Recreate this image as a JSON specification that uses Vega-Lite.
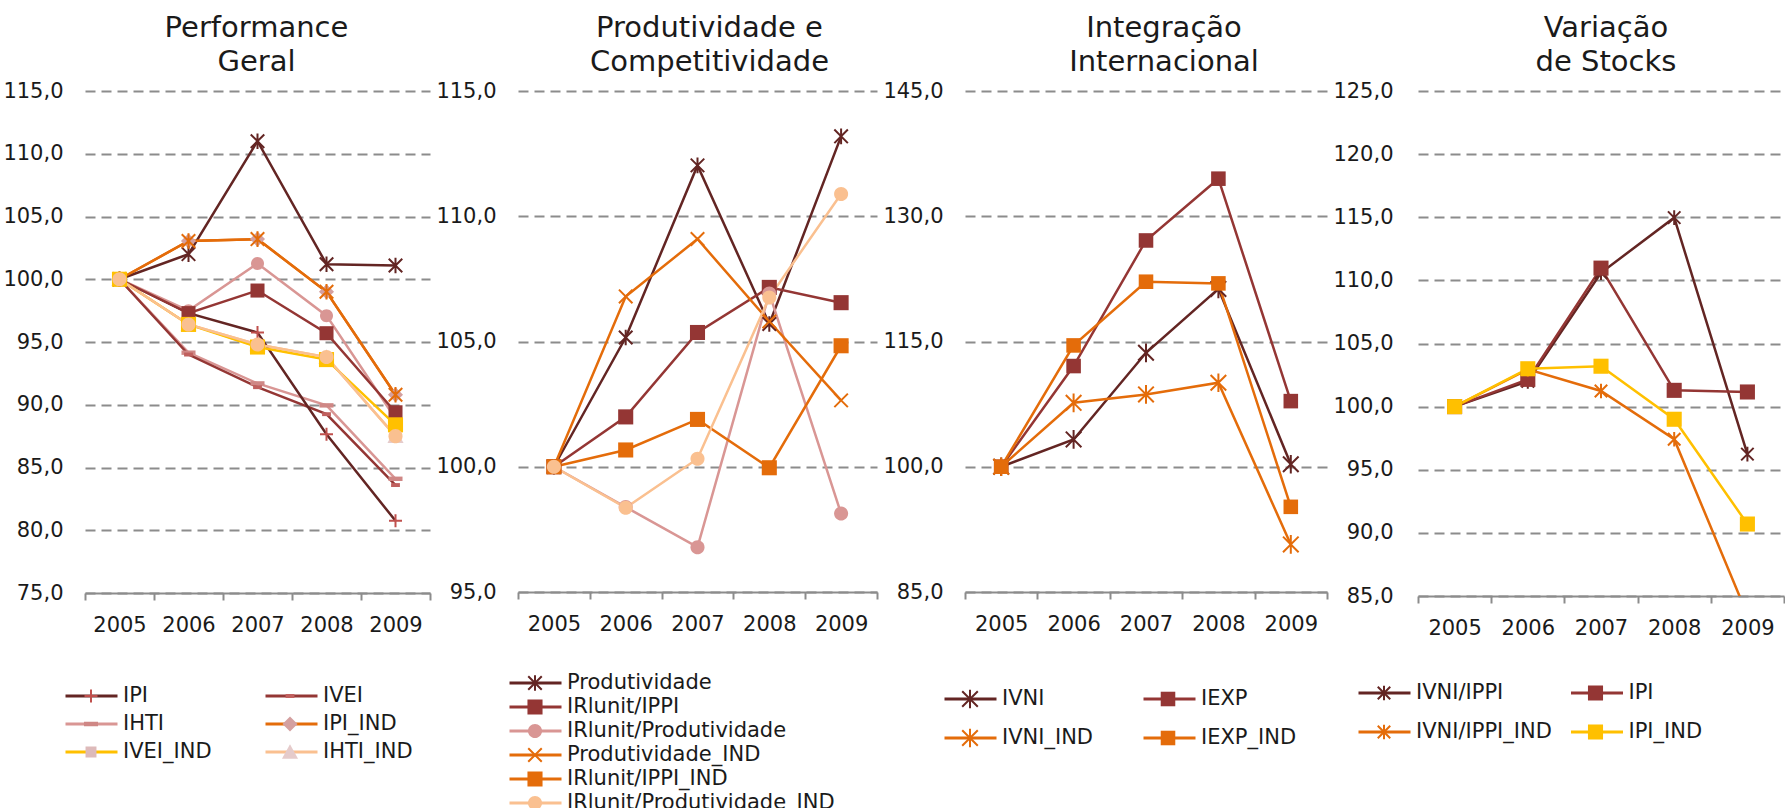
{
  "$schema": "https://vega.github.io/schema/vega-lite/v6.json",
  "background": "white",
  "padding": {"left": 2, "top": 13, "right": 0, "bottom": 0},
  "spacing": 4,
  "config": {
    "view": {"stroke": null},
    "axisX": {"labelAngle": 0, "tickBand": "extent", "domainColor": "#8c8c8c", "domainWidth": 2, "tickColor": "#8c8c8c", "tickWidth": 2, "tickSize": 7, "labelPadding": 14, "grid": false, "labelFont": "DejaVu Sans", "labelFontSize": 21, "labelColor": "#1a1a1a", "title": null},
    "axisY": {"domain": false, "ticks": false, "labelPadding": 22, "grid": true, "gridDash": [10, 6], "gridColor": "#8c8c8c", "gridWidth": 2, "labelFont": "DejaVu Sans", "labelFontSize": 21, "labelColor": "#1a1a1a", "title": null, "labelExpr": "replace(format(datum.value,'.1f'),'.',',')"},
    "title": {"font": "DejaVu Sans", "fontSize": 29, "fontWeight": "normal", "color": "#1a1a1a", "lineHeight": 34, "anchor": "middle", "frame": "group", "offset": 3.5},
    "legend": {"orient": "none", "title": null, "padding": 0, "labelFont": "DejaVu Sans", "labelFontSize": 21, "labelColor": "#1a1a1a", "symbolSize": 2704, "clipHeight": 22, "labelOffset": 4, "direction": "horizontal", "labelLimit": 400}
  },
  "resolve": {"scale": {"color": "independent", "fill": "independent", "stroke": "independent", "shape": "independent"}},
  "hconcat": [
    {
      "width": 345, "height": 502,
      "title": {"text": ["Performance", "Geral"], "dx": -1},
      "data": {"values": [
        {"ano": "2005", "serie": "IHTI_IND", "valor": 100}, {"ano": "2006", "serie": "IHTI_IND", "valor": 96.4}, {"ano": "2007", "serie": "IHTI_IND", "valor": 94.8}, {"ano": "2008", "serie": "IHTI_IND", "valor": 93.8}, {"ano": "2009", "serie": "IHTI_IND", "valor": 87.5},
        {"ano": "2005", "serie": "IVEI_IND", "valor": 100}, {"ano": "2006", "serie": "IVEI_IND", "valor": 96.4}, {"ano": "2007", "serie": "IVEI_IND", "valor": 94.6}, {"ano": "2008", "serie": "IVEI_IND", "valor": 93.6}, {"ano": "2009", "serie": "IVEI_IND", "valor": 88.4},
        {"ano": "2005", "serie": "IHTI", "valor": 100}, {"ano": "2006", "serie": "IHTI", "valor": 94.15}, {"ano": "2007", "serie": "IHTI", "valor": 91.7}, {"ano": "2008", "serie": "IHTI", "valor": 89.95}, {"ano": "2009", "serie": "IHTI", "valor": 84.1},
        {"ano": "2005", "serie": "IVEI", "valor": 100}, {"ano": "2006", "serie": "IVEI", "valor": 94.0}, {"ano": "2007", "serie": "IVEI", "valor": 91.4}, {"ano": "2008", "serie": "IVEI", "valor": 89.25}, {"ano": "2009", "serie": "IVEI", "valor": 83.6},
        {"ano": "2005", "serie": "IPI", "valor": 100}, {"ano": "2006", "serie": "IPI", "valor": 97.3}, {"ano": "2007", "serie": "IPI", "valor": 95.75}, {"ano": "2008", "serie": "IPI", "valor": 87.65}, {"ano": "2009", "serie": "IPI", "valor": 80.75},
        {"ano": "2005", "serie": "IPI_IND", "valor": 100}, {"ano": "2006", "serie": "IPI_IND", "valor": 103.05}, {"ano": "2007", "serie": "IPI_IND", "valor": 103.2}, {"ano": "2008", "serie": "IPI_IND", "valor": 99.0}, {"ano": "2009", "serie": "IPI_IND", "valor": 90.8},
        {"ano": "2005", "serie": "série 7", "valor": 100}, {"ano": "2006", "serie": "série 7", "valor": 102.0}, {"ano": "2007", "serie": "série 7", "valor": 111.0}, {"ano": "2008", "serie": "série 7", "valor": 101.2}, {"ano": "2009", "serie": "série 7", "valor": 101.1},
        {"ano": "2005", "serie": "série 8", "valor": 100}, {"ano": "2006", "serie": "série 8", "valor": 103.05}, {"ano": "2007", "serie": "série 8", "valor": 103.2}, {"ano": "2008", "serie": "série 8", "valor": 99.0}, {"ano": "2009", "serie": "série 8", "valor": 90.8},
        {"ano": "2005", "serie": "série 9", "valor": 100}, {"ano": "2006", "serie": "série 9", "valor": 97.5}, {"ano": "2007", "serie": "série 9", "valor": 101.25}, {"ano": "2008", "serie": "série 9", "valor": 97.1}, {"ano": "2009", "serie": "série 9", "valor": 88.9},
        {"ano": "2005", "serie": "série 10", "valor": 100}, {"ano": "2006", "serie": "série 10", "valor": 97.3}, {"ano": "2007", "serie": "série 10", "valor": 99.1}, {"ano": "2008", "serie": "série 10", "valor": 95.7}, {"ano": "2009", "serie": "série 10", "valor": 89.4},
        {"ano": "2005", "serie": "série 11", "valor": 100}, {"ano": "2006", "serie": "série 11", "valor": 96.4}, {"ano": "2007", "serie": "série 11", "valor": 94.6}, {"ano": "2008", "serie": "série 11", "valor": 93.6}, {"ano": "2009", "serie": "série 11", "valor": 88.4},
        {"ano": "2005", "serie": "série 12", "valor": 100}, {"ano": "2006", "serie": "série 12", "valor": 96.4}, {"ano": "2007", "serie": "série 12", "valor": 94.8}, {"ano": "2008", "serie": "série 12", "valor": 93.8}, {"ano": "2009", "serie": "série 12", "valor": 87.5}
      ]},
      "encoding": {
        "x": {"field": "ano", "type": "nominal", "scale": {"type": "band", "paddingInner": 0, "paddingOuter": 0}},
        "y": {"field": "valor", "type": "quantitative", "scale": {"domain": [75, 115], "nice": false, "zero": false}, "axis": {"values": [75, 80, 85, 90, 95, 100, 105, 110, 115]}}
      },
      "layer": [
        {
          "mark": {"type": "line", "clip": true},
          "encoding": {
            "strokeWidth": {"condition": {"test": "datum.serie === 'IVEI_IND'", "value": 1.2}, "value": 2.5},
            "color": {"field": "serie", "type": "nominal",
              "scale": {"domain": ["IPI", "IVEI", "IHTI", "IPI_IND", "IVEI_IND", "IHTI_IND", "série 7", "série 8", "série 9", "série 10", "série 11", "série 12", "_"],
                        "range": ["#632523", "#943634", "#D99694", "#E46C0A", "#FFC000", "#FAC090", "#632523", "#E46C0A", "#D99694", "#943634", "#FFC000", "#FAC090", "#000000"]},
              "legend": {"values": ["IPI", "IVEI", "IHTI", "IPI_IND", "IVEI_IND", "IHTI_IND"], "symbolType": "stroke", "symbolStrokeWidth": 3, "columns": 2, "columnPadding": 52, "rowPadding": 6, "legendX": -21, "legendY": 594}}
          }
        },
        {
          "mark": {"type": "point", "filled": true, "size": 2704, "strokeWidth": 2, "opacity": 1, "clip": true},
          "encoding": {
            "shape": {"field": "serie", "type": "nominal",
              "scale": {"domain": ["IPI", "IVEI", "IHTI", "IPI_IND", "IVEI_IND", "IHTI_IND", "série 7", "série 8", "série 9", "série 10", "série 11", "série 12"],
                        "range": ["M-0.25,0H0.25M0,-0.25V0.25", "M-0.17,-0.075H0.17V0.075H-0.17Z", "M-0.27,-0.085H0.27V0.085H-0.27Z", "M0,-0.29L0.29,0L0,0.29L-0.29,0Z", "M-0.21,-0.21H0.21V0.21H-0.21Z", "M0,-0.3L0.31,0.26H-0.31Z", "M-0.26,-0.26L0.26,0.26M-0.26,0.26L0.26,-0.26M0,-0.3V0.3", "M-0.26,-0.26L0.26,0.26M-0.26,0.26L0.26,-0.26M0,-0.3V0.3", "M-0.25,0A0.25,0.25,0,1,0,0.25,0A0.25,0.25,0,1,0,-0.25,0Z", "M-0.27,-0.27H0.27V0.27H-0.27Z", "M-0.29,-0.29H0.29V0.29H-0.29Z", "M-0.27,0A0.27,0.27,0,1,0,0.27,0A0.27,0.27,0,1,0,-0.27,0Z"]},
              "legend": {"values": ["IPI", "IVEI", "IHTI", "IPI_IND", "IVEI_IND", "IHTI_IND"], "symbolStrokeWidth": 2, "labelOpacity": 0, "columns": 2, "columnPadding": 52, "rowPadding": 6, "legendX": -21, "legendY": 594}},
            "fill": {"field": "serie", "type": "nominal",
              "scale": {"domain": ["IPI", "IVEI", "IHTI", "IPI_IND", "IVEI_IND", "IHTI_IND", "série 7", "série 8", "série 9", "série 10", "série 11", "série 12"],
                        "range": ["transparent", "#C0605E", "#CF8785", "#D4A0A0", "#DDBABA", "#E5CBCB", "transparent", "transparent", "#D99694", "#943634", "#FFC000", "#FAC090"]}},
            "stroke": {"field": "serie", "type": "nominal",
              "scale": {"domain": ["IPI", "IVEI", "IHTI", "IPI_IND", "IVEI_IND", "IHTI_IND", "série 7", "série 8", "série 9", "série 10", "série 11", "série 12"],
                        "range": ["#C0504D", "transparent", "transparent", "transparent", "transparent", "transparent", "#632523", "#E46C0A", "transparent", "transparent", "transparent", "transparent"]}}
          }
        }
      ]
    },
    {
      "width": 359, "height": 501,
      "title": {"text": ["Produtividade e", "Competitividade"], "dx": 12},
      "data": {"values": [
        {"ano": "2005", "serie": "Produtividade", "valor": 100}, {"ano": "2006", "serie": "Produtividade", "valor": 105.16}, {"ano": "2007", "serie": "Produtividade", "valor": 112.03}, {"ano": "2008", "serie": "Produtividade", "valor": 105.7}, {"ano": "2009", "serie": "Produtividade", "valor": 113.19},
        {"ano": "2005", "serie": "IRlunit/IPPI", "valor": 100}, {"ano": "2006", "serie": "IRlunit/IPPI", "valor": 101.99}, {"ano": "2007", "serie": "IRlunit/IPPI", "valor": 105.36}, {"ano": "2008", "serie": "IRlunit/IPPI", "valor": 107.16}, {"ano": "2009", "serie": "IRlunit/IPPI", "valor": 106.55},
        {"ano": "2005", "serie": "IRlunit/Produtividade", "valor": 100}, {"ano": "2006", "serie": "IRlunit/Produtividade", "valor": 98.39}, {"ano": "2007", "serie": "IRlunit/Produtividade", "valor": 96.79}, {"ano": "2008", "serie": "IRlunit/Produtividade", "valor": 106.92}, {"ano": "2009", "serie": "IRlunit/Produtividade", "valor": 98.13},
        {"ano": "2005", "serie": "Produtividade_IND", "valor": 100}, {"ano": "2006", "serie": "Produtividade_IND", "valor": 106.8}, {"ano": "2007", "serie": "Produtividade_IND", "valor": 109.09}, {"ano": "2008", "serie": "Produtividade_IND", "valor": 105.8}, {"ano": "2009", "serie": "Produtividade_IND", "valor": 102.65},
        {"ano": "2005", "serie": "IRlunit/IPPI_IND", "valor": 100}, {"ano": "2006", "serie": "IRlunit/IPPI_IND", "valor": 100.67}, {"ano": "2007", "serie": "IRlunit/IPPI_IND", "valor": 101.89}, {"ano": "2008", "serie": "IRlunit/IPPI_IND", "valor": 99.96}, {"ano": "2009", "serie": "IRlunit/IPPI_IND", "valor": 104.83},
        {"ano": "2005", "serie": "IRlunit/Produtividade_IND", "valor": 100}, {"ano": "2006", "serie": "IRlunit/Produtividade_IND", "valor": 98.36}, {"ano": "2007", "serie": "IRlunit/Produtividade_IND", "valor": 100.32}, {"ano": "2008", "serie": "IRlunit/Produtividade_IND", "valor": 106.76}, {"ano": "2009", "serie": "IRlunit/Produtividade_IND", "valor": 110.89}
      ]},
      "encoding": {
        "x": {"field": "ano", "type": "nominal", "scale": {"type": "band", "paddingInner": 0, "paddingOuter": 0}},
        "y": {"field": "valor", "type": "quantitative", "scale": {"domain": [95, 115], "nice": false, "zero": false}, "axis": {"values": [95, 100, 105, 110, 115]}}
      },
      "layer": [
        {
          "mark": {"type": "line", "clip": true, "strokeWidth": 2.5},
          "encoding": {
            "color": {"field": "serie", "type": "nominal",
              "scale": {"domain": ["Produtividade", "IRlunit/IPPI", "IRlunit/Produtividade", "Produtividade_IND", "IRlunit/IPPI_IND", "IRlunit/Produtividade_IND", "_"],
                        "range": ["#632523", "#943634", "#D99694", "#E46C0A", "#E46C0A", "#FAC090", "#000000"]},
              "legend": {"values": ["Produtividade", "IRlunit/IPPI", "IRlunit/Produtividade", "Produtividade_IND", "IRlunit/IPPI_IND", "IRlunit/Produtividade_IND"], "symbolType": "stroke", "symbolStrokeWidth": 3, "columns": 1, "rowPadding": 2, "legendX": -10, "legendY": 581}}
          }
        },
        {
          "mark": {"type": "point", "filled": true, "size": 2704, "strokeWidth": 2, "opacity": 1, "clip": true},
          "encoding": {
            "shape": {"field": "serie", "type": "nominal",
              "scale": {"domain": ["Produtividade", "IRlunit/IPPI", "IRlunit/Produtividade", "Produtividade_IND", "IRlunit/IPPI_IND", "IRlunit/Produtividade_IND"],
                        "range": ["M-0.26,-0.26L0.26,0.26M-0.26,0.26L0.26,-0.26M0,-0.3V0.3", "M-0.29,-0.29H0.29V0.29H-0.29Z", "M-0.27,0A0.27,0.27,0,1,0,0.27,0A0.27,0.27,0,1,0,-0.27,0Z", "M-0.26,-0.26L0.26,0.26M-0.26,0.26L0.26,-0.26", "M-0.29,-0.29H0.29V0.29H-0.29Z", "M-0.27,0A0.27,0.27,0,1,0,0.27,0A0.27,0.27,0,1,0,-0.27,0Z"]},
              "legend": {"values": ["Produtividade", "IRlunit/IPPI", "IRlunit/Produtividade", "Produtividade_IND", "IRlunit/IPPI_IND", "IRlunit/Produtividade_IND"], "symbolStrokeWidth": 2, "labelOpacity": 0, "columns": 1, "rowPadding": 2, "legendX": -10, "legendY": 581}},
            "fill": {"field": "serie", "type": "nominal",
              "scale": {"domain": ["Produtividade", "IRlunit/IPPI", "IRlunit/Produtividade", "Produtividade_IND", "IRlunit/IPPI_IND", "IRlunit/Produtividade_IND"],
                        "range": ["transparent", "#943634", "#D99694", "transparent", "#E46C0A", "#FAC090"]}},
            "stroke": {"field": "serie", "type": "nominal",
              "scale": {"domain": ["Produtividade", "IRlunit/IPPI", "IRlunit/Produtividade", "Produtividade_IND", "IRlunit/IPPI_IND", "IRlunit/Produtividade_IND"],
                        "range": ["#632523", "transparent", "transparent", "#E46C0A", "transparent", "transparent"]}}
          }
        }
      ]
    },
    {
      "width": 362, "height": 501,
      "title": {"text": ["Integração", "Internacional"], "dx": 18},
      "data": {"values": [
        {"ano": "2005", "serie": "IVNI", "valor": 100}, {"ano": "2006", "serie": "IVNI", "valor": 103.27}, {"ano": "2007", "serie": "IVNI", "valor": 113.65}, {"ano": "2008", "serie": "IVNI", "valor": 121.3}, {"ano": "2009", "serie": "IVNI", "valor": 100.3},
        {"ano": "2005", "serie": "IEXP", "valor": 100}, {"ano": "2006", "serie": "IEXP", "valor": 112.06}, {"ano": "2007", "serie": "IEXP", "valor": 127.1}, {"ano": "2008", "serie": "IEXP", "valor": 134.5}, {"ano": "2009", "serie": "IEXP", "valor": 107.86},
        {"ano": "2005", "serie": "IVNI_IND", "valor": 100}, {"ano": "2006", "serie": "IVNI_IND", "valor": 107.66}, {"ano": "2007", "serie": "IVNI_IND", "valor": 108.66}, {"ano": "2008", "serie": "IVNI_IND", "valor": 110.06}, {"ano": "2009", "serie": "IVNI_IND", "valor": 90.7},
        {"ano": "2005", "serie": "IEXP_IND", "valor": 100}, {"ano": "2006", "serie": "IEXP_IND", "valor": 114.53}, {"ano": "2007", "serie": "IEXP_IND", "valor": 122.16}, {"ano": "2008", "serie": "IEXP_IND", "valor": 121.96}, {"ano": "2009", "serie": "IEXP_IND", "valor": 95.2}
      ]},
      "encoding": {
        "x": {"field": "ano", "type": "nominal", "scale": {"type": "band", "paddingInner": 0, "paddingOuter": 0}},
        "y": {"field": "valor", "type": "quantitative", "scale": {"domain": [85, 145], "nice": false, "zero": false}, "axis": {"values": [85, 100, 115, 130, 145]}}
      },
      "layer": [
        {
          "mark": {"type": "line", "clip": true, "strokeWidth": 2.5},
          "encoding": {
            "color": {"field": "serie", "type": "nominal",
              "scale": {"domain": ["IVNI", "IEXP", "IVNI_IND", "IEXP_IND", "_"], "range": ["#632523", "#943634", "#E46C0A", "#E46C0A", "#000000"]},
              "legend": {"values": ["IVNI", "IEXP", "IVNI_IND", "IEXP_IND"], "symbolType": "stroke", "symbolStrokeWidth": 3, "columns": 2, "columnPadding": 48, "rowPadding": 17, "legendX": -22, "legendY": 597}}
          }
        },
        {
          "mark": {"type": "point", "filled": true, "size": 2704, "strokeWidth": 2, "opacity": 1, "clip": true},
          "encoding": {
            "shape": {"field": "serie", "type": "nominal",
              "scale": {"domain": ["IVNI", "IEXP", "IVNI_IND", "IEXP_IND"],
                        "range": ["M-0.3,-0.3L0.3,0.3M-0.3,0.3L0.3,-0.3M0,-0.36V0.36", "M-0.28,-0.28H0.28V0.28H-0.28Z", "M-0.3,-0.3L0.3,0.3M-0.3,0.3L0.3,-0.3M0,-0.36V0.36", "M-0.28,-0.28H0.28V0.28H-0.28Z"]},
              "legend": {"values": ["IVNI", "IEXP", "IVNI_IND", "IEXP_IND"], "symbolStrokeWidth": 2, "labelOpacity": 0, "columns": 2, "columnPadding": 48, "rowPadding": 17, "legendX": -22, "legendY": 597}},
            "fill": {"field": "serie", "type": "nominal",
              "scale": {"domain": ["IVNI", "IEXP", "IVNI_IND", "IEXP_IND"], "range": ["transparent", "#943634", "transparent", "#E46C0A"]}},
            "stroke": {"field": "serie", "type": "nominal",
              "scale": {"domain": ["IVNI", "IEXP", "IVNI_IND", "IEXP_IND"], "range": ["#632523", "transparent", "#E46C0A", "transparent"]}}
          }
        }
      ]
    },
    {
      "width": 366, "height": 505,
      "title": {"text": ["Variação", "de Stocks"], "dx": 5},
      "data": {"values": [
        {"ano": "2005", "serie": "IVNI/IPPI", "valor": 100}, {"ano": "2006", "serie": "IVNI/IPPI", "valor": 102.0}, {"ano": "2007", "serie": "IVNI/IPPI", "valor": 110.6}, {"ano": "2008", "serie": "IVNI/IPPI", "valor": 114.97}, {"ano": "2009", "serie": "IVNI/IPPI", "valor": 96.24},
        {"ano": "2005", "serie": "IPI", "valor": 100}, {"ano": "2006", "serie": "IPI", "valor": 102.16}, {"ano": "2007", "serie": "IPI", "valor": 110.97}, {"ano": "2008", "serie": "IPI", "valor": 101.29}, {"ano": "2009", "serie": "IPI", "valor": 101.16},
        {"ano": "2005", "serie": "IVNI/IPPI_IND", "valor": 100}, {"ano": "2006", "serie": "IVNI/IPPI_IND", "valor": 102.95}, {"ano": "2007", "serie": "IVNI/IPPI_IND", "valor": 101.24}, {"ano": "2008", "serie": "IVNI/IPPI_IND", "valor": 97.42}, {"ano": "2009", "serie": "IVNI/IPPI_IND", "valor": 83.5},
        {"ano": "2005", "serie": "IPI_IND", "valor": 100}, {"ano": "2006", "serie": "IPI_IND", "valor": 103.0}, {"ano": "2007", "serie": "IPI_IND", "valor": 103.2}, {"ano": "2008", "serie": "IPI_IND", "valor": 99.0}, {"ano": "2009", "serie": "IPI_IND", "valor": 90.7}
      ]},
      "encoding": {
        "x": {"field": "ano", "type": "nominal", "scale": {"type": "band", "paddingInner": 0, "paddingOuter": 0}},
        "y": {"field": "valor", "type": "quantitative", "scale": {"domain": [85, 125], "nice": false, "zero": false}, "axis": {"values": [85, 90, 95, 100, 105, 110, 115, 120, 125], "labelPadding": 25}}
      },
      "layer": [
        {
          "mark": {"type": "line", "clip": true, "strokeWidth": 2.5},
          "encoding": {
            "color": {"field": "serie", "type": "nominal",
              "scale": {"domain": ["IVNI/IPPI", "IPI", "IVNI/IPPI_IND", "IPI_IND", "_"], "range": ["#632523", "#943634", "#E46C0A", "#FFC000", "#000000"]},
              "legend": {"values": ["IVNI/IPPI", "IPI", "IVNI/IPPI_IND", "IPI_IND"], "symbolType": "stroke", "symbolStrokeWidth": 3, "columns": 2, "columnPadding": 17.5, "rowPadding": 17, "legendX": -61, "legendY": 591}}
          }
        },
        {
          "mark": {"type": "point", "filled": true, "size": 2704, "strokeWidth": 2, "opacity": 1, "clip": true},
          "encoding": {
            "shape": {"field": "serie", "type": "nominal",
              "scale": {"domain": ["IVNI/IPPI", "IPI", "IVNI/IPPI_IND", "IPI_IND"],
                        "range": ["M-0.24,-0.24L0.24,0.24M-0.24,0.24L0.24,-0.24M0,-0.28V0.28", "M-0.29,-0.29H0.29V0.29H-0.29Z", "M-0.24,-0.24L0.24,0.24M-0.24,0.24L0.24,-0.24M0,-0.28V0.28", "M-0.29,-0.29H0.29V0.29H-0.29Z"]},
              "legend": {"values": ["IVNI/IPPI", "IPI", "IVNI/IPPI_IND", "IPI_IND"], "symbolStrokeWidth": 2, "labelOpacity": 0, "columns": 2, "columnPadding": 17.5, "rowPadding": 17, "legendX": -61, "legendY": 591}},
            "fill": {"field": "serie", "type": "nominal",
              "scale": {"domain": ["IVNI/IPPI", "IPI", "IVNI/IPPI_IND", "IPI_IND"], "range": ["transparent", "#943634", "transparent", "#FFC000"]}},
            "stroke": {"field": "serie", "type": "nominal",
              "scale": {"domain": ["IVNI/IPPI", "IPI", "IVNI/IPPI_IND", "IPI_IND"], "range": ["#632523", "transparent", "#E46C0A", "transparent"]}}
          }
        }
      ]
    }
  ]
}
